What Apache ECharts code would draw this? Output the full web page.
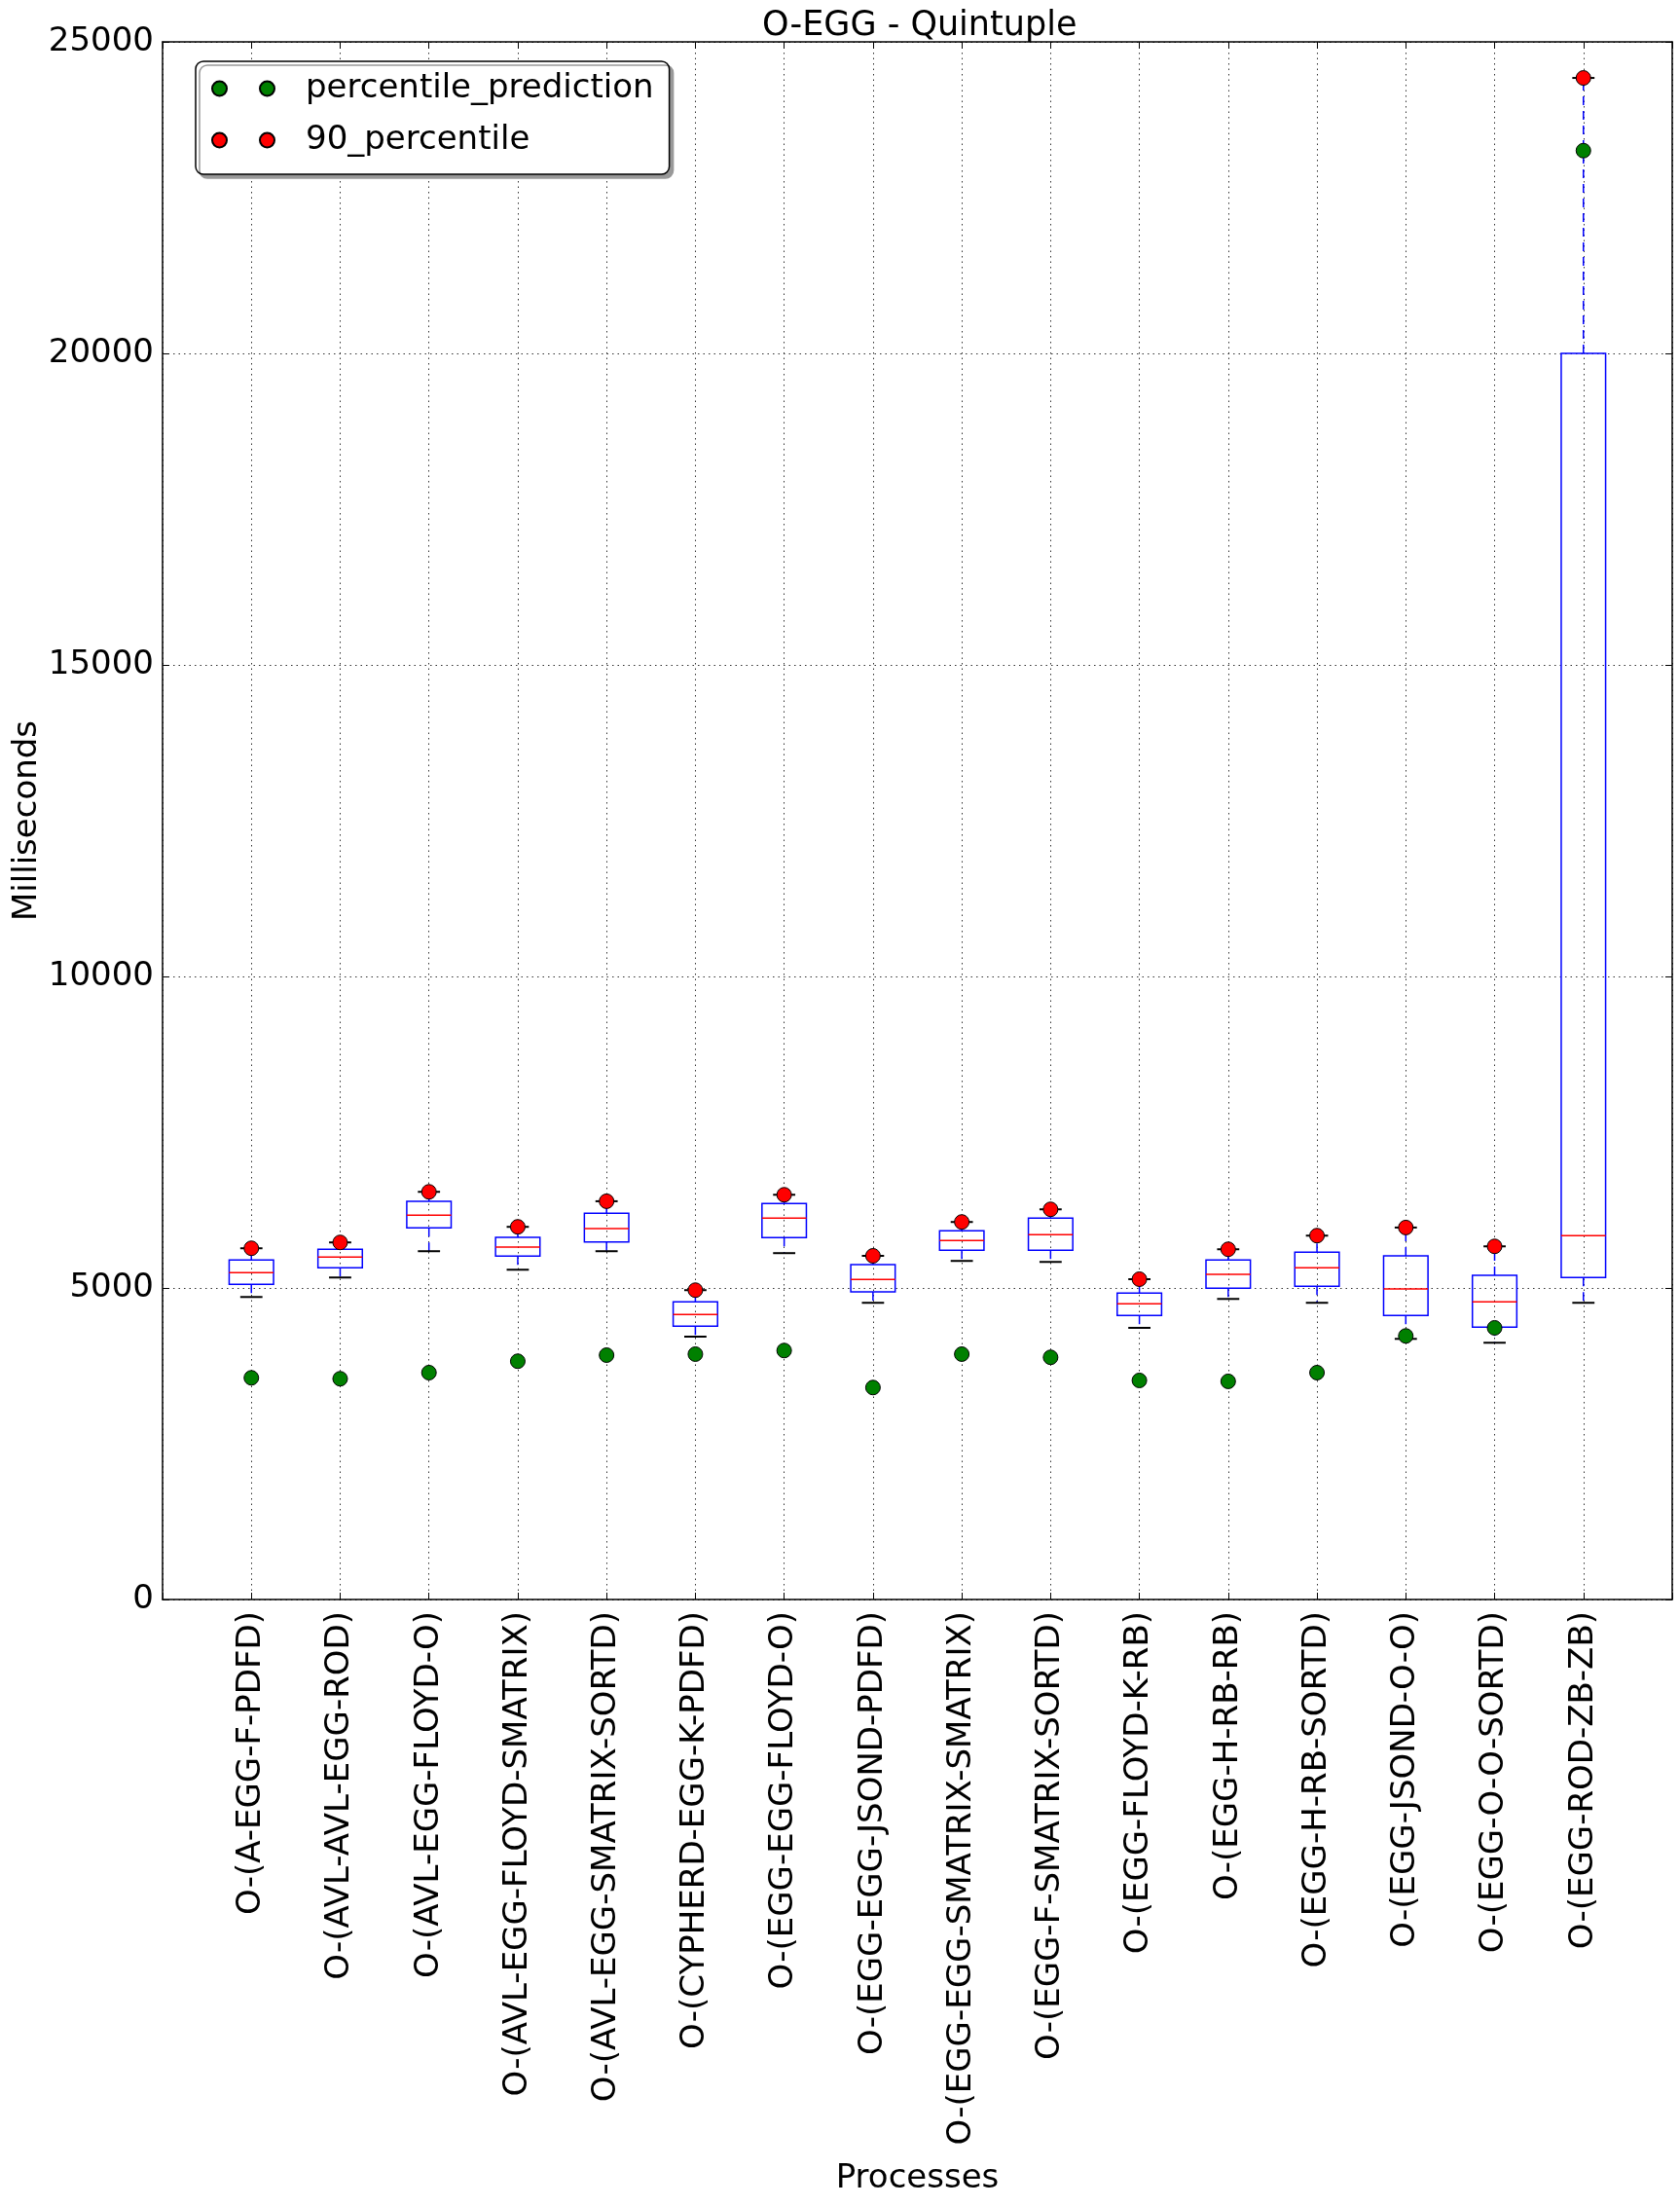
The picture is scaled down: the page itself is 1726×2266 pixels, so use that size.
<!DOCTYPE html>
<html>
<head>
<meta charset="utf-8">
<script src="https://cdn.jsdelivr.net/npm/echarts@6/dist/echarts.min.js"></script>
<style>
  html, body { margin: 0; padding: 0; background: #fff; }
  #chart { width: 1726px; height: 2266px; }
</style>
</head>
<body>
<div id="chart"></div>
<script>
const categories = [
  "O-(A-EGG-F-PDFD)",
  "O-(AVL-AVL-EGG-ROD)",
  "O-(AVL-EGG-FLOYD-O)",
  "O-(AVL-EGG-FLOYD-SMATRIX)",
  "O-(AVL-EGG-SMATRIX-SORTD)",
  "O-(CYPHERD-EGG-K-PDFD)",
  "O-(EGG-EGG-FLOYD-O)",
  "O-(EGG-EGG-JSOND-PDFD)",
  "O-(EGG-EGG-SMATRIX-SMATRIX)",
  "O-(EGG-F-SMATRIX-SORTD)",
  "O-(EGG-FLOYD-K-RB)",
  "O-(EGG-H-RB-RB)",
  "O-(EGG-H-RB-SORTD)",
  "O-(EGG-JSOND-O-O)",
  "O-(EGG-O-O-SORTD)",
  "O-(EGG-ROD-ZB-ZB)"
];
const whiskerLow  = [4855, 5168, 5590, 5293, 5590, 4219, 5559, 4762, 5434, 5418, 4360, 4824, 4762, 4183, 4121, 4762];
const q1          = [5059, 5324, 5965, 5512, 5740, 4387, 5809, 4938, 5606, 5606, 4559, 4996, 5027, 4559, 4371, 5168];
const median      = [5246, 5496, 6168, 5657, 5954, 4574, 6121, 5137, 5762, 5856, 4746, 5220, 5324, 4985, 4777, 5840];
const q3          = [5449, 5621, 6392, 5813, 6199, 4777, 6356, 5376, 5918, 6121, 4918, 5449, 5574, 5516, 5204, 20000];
const whiskerHigh = [5637, 5731, 6543, 5981, 6392, 4965, 6496, 5516, 6059, 6262, 5141, 5621, 5840, 5970, 5668, 24421];
const percentile90 = [5637, 5731, 6543, 5981, 6392, 4965, 6496, 5516, 6059, 6262, 5141, 5621, 5840, 5970, 5668, 24421];
const percentilePrediction = [3558, 3543, 3641, 3824, 3922, 3938, 3996, 3402, 3938, 3887, 3516, 3501, 3641, 4230, 4360, 23254];
const yTicks = { min: 0, max: 25000, interval: 5000 };

const FONT = "'DejaVu Sans', sans-serif";
const boxData = categories.map((c, i) => [i + 1, whiskerLow[i], q1[i], median[i], q3[i], whiskerHigh[i]]);
const p90Data = percentile90.map((v, i) => [i + 1, v]);
const predData = percentilePrediction.map((v, i) => [i + 1, v]);

const twoDots = 'path://M0,7.5a7.5,7.5 0 1,0 15,0a7.5,7.5 0 1,0 -15,0Z M49,7.5a7.5,7.5 0 1,0 15,0a7.5,7.5 0 1,0 -15,0Z';
const gridLine = { show: true, lineStyle: { color: '#333', width: 1, type: [1.5, 4] } };

const chart = echarts.init(document.getElementById('chart'), null, { renderer: 'canvas' });
chart.setOption({
  animation: false,
  backgroundColor: '#fff',
  title: {
    text: 'O-EGG - Quintuple',
    left: 778, top: 4,
    textStyle: { fontFamily: FONT, fontSize: 35, fontWeight: 'normal', color: '#000' }
  },
  legend: {
    orient: 'vertical',
    left: 201, top: 63, width: 460,
    padding: [9, 16, 16, 16],
    itemWidth: 64, itemHeight: 15, itemGap: 15,
    selectedMode: false,
    backgroundColor: '#fff',
    borderColor: '#000', borderWidth: 1.5, borderRadius: 8,
    shadowColor: '#999', shadowBlur: 0, shadowOffsetX: 4, shadowOffsetY: 4,
    textStyle: { fontFamily: FONT, fontSize: 34, color: '#000', lineHeight: 38, padding: [0, 0, 0, 27] },
    data: [
      { name: 'percentile_prediction', icon: twoDots },
      { name: '90_percentile', icon: twoDots }
    ]
  },
  grid: { left: 167, right: 8, top: 43, bottom: 623, containLabel: false, outerBoundsMode: 'none' },
  xAxis: [
    {
      type: 'value', min: 0, max: categories.length + 1, interval: 1,
      position: 'bottom',
      name: 'Processes', nameLocation: 'middle', nameGap: 578, nameMoveOverlap: false,
      nameTextStyle: { fontFamily: FONT, fontSize: 34, color: '#000' },
      axisLine: { onZero: false, lineStyle: { color: '#000', width: 1.5 } },
      axisTick: { inside: true, length: 7, lineStyle: { color: '#000', width: 1 } },
      axisLabel: {
        rotate: 90, margin: 12, fontFamily: FONT, fontSize: 34, color: '#000',
        formatter: v => (v >= 1 && v <= categories.length) ? categories[v - 1] : ''
      },
      splitLine: gridLine
    },
    {
      type: 'value', min: 0, max: categories.length + 1, interval: 1,
      position: 'top',
      axisLine: { onZero: false, lineStyle: { color: '#000', width: 1.5 } },
      axisTick: { inside: true, length: 7, lineStyle: { color: '#000', width: 1 } },
      axisLabel: { show: false },
      splitLine: { show: false }
    }
  ],
  yAxis: [
    {
      type: 'value', min: yTicks.min, max: yTicks.max, interval: yTicks.interval,
      position: 'left',
      name: 'Milliseconds', nameLocation: 'middle', nameGap: 122, nameMoveOverlap: false,
      nameTextStyle: { fontFamily: FONT, fontSize: 34, color: '#000' },
      axisLine: { show: true, onZero: false, lineStyle: { color: '#000', width: 1.5 } },
      axisTick: { show: true, inside: true, length: 7, lineStyle: { color: '#000', width: 1 } },
      axisLabel: { margin: 9, fontFamily: FONT, fontSize: 34, color: '#000', formatter: v => String(v) },
      splitLine: gridLine
    },
    {
      type: 'value', min: yTicks.min, max: yTicks.max, interval: yTicks.interval,
      position: 'right',
      axisLine: { show: true, onZero: false, lineStyle: { color: '#000', width: 1.5 } },
      axisTick: { show: true, inside: true, length: 7, lineStyle: { color: '#000', width: 1 } },
      axisLabel: { show: false },
      splitLine: { show: false }
    }
  ],
  series: [
    {
      type: 'custom',
      name: 'box',
      xAxisIndex: 0, yAxisIndex: 0,
      encode: { x: 0, y: [1, 2, 3, 4, 5] },
      z: 2,
      data: boxData,
      renderItem: function (params, api) {
        const x = api.value(0);
        const lo = api.coord([x, api.value(1)]);
        const b1 = api.coord([x, api.value(2)]);
        const md = api.coord([x, api.value(3)]);
        const b3 = api.coord([x, api.value(4)]);
        const hi = api.coord([x, api.value(5)]);
        const unit = api.size([1, 0])[0];
        const hw = unit * 0.25, cw = unit * 0.125;
        const cx = md[0];
        const wh = { stroke: '#0000ff', lineWidth: 1.5, lineDash: [9, 6] };
        const cap = { stroke: '#000', lineWidth: 2 };
        return {
          type: 'group',
          children: [
            { type: 'line', shape: { x1: cx, y1: b3[1], x2: cx, y2: hi[1] }, style: wh },
            { type: 'line', shape: { x1: cx, y1: b1[1], x2: cx, y2: lo[1] }, style: wh },
            { type: 'line', shape: { x1: cx - cw, y1: hi[1], x2: cx + cw, y2: hi[1] }, style: cap },
            { type: 'line', shape: { x1: cx - cw, y1: lo[1], x2: cx + cw, y2: lo[1] }, style: cap },
            { type: 'rect', shape: { x: cx - hw, y: b3[1], width: 2 * hw, height: b1[1] - b3[1] },
              style: { fill: 'none', stroke: '#0000ff', lineWidth: 1.5 } },
            { type: 'line', shape: { x1: cx - hw, y1: md[1], x2: cx + hw, y2: md[1] },
              style: { stroke: '#ff0000', lineWidth: 1.5 } }
          ]
        };
      }
    },
    {
      type: 'scatter',
      name: 'percentile_prediction',
      data: predData,
      symbol: 'circle', symbolSize: 15, z: 3,
      itemStyle: { color: '#008000', borderColor: '#000', borderWidth: 1, opacity: 1 }
    },
    {
      type: 'scatter',
      name: '90_percentile',
      data: p90Data,
      symbol: 'circle', symbolSize: 15, z: 4,
      itemStyle: { color: '#ff0000', borderColor: '#000', borderWidth: 1, opacity: 1 }
    }
  ]
});
</script>
</body>
</html>
